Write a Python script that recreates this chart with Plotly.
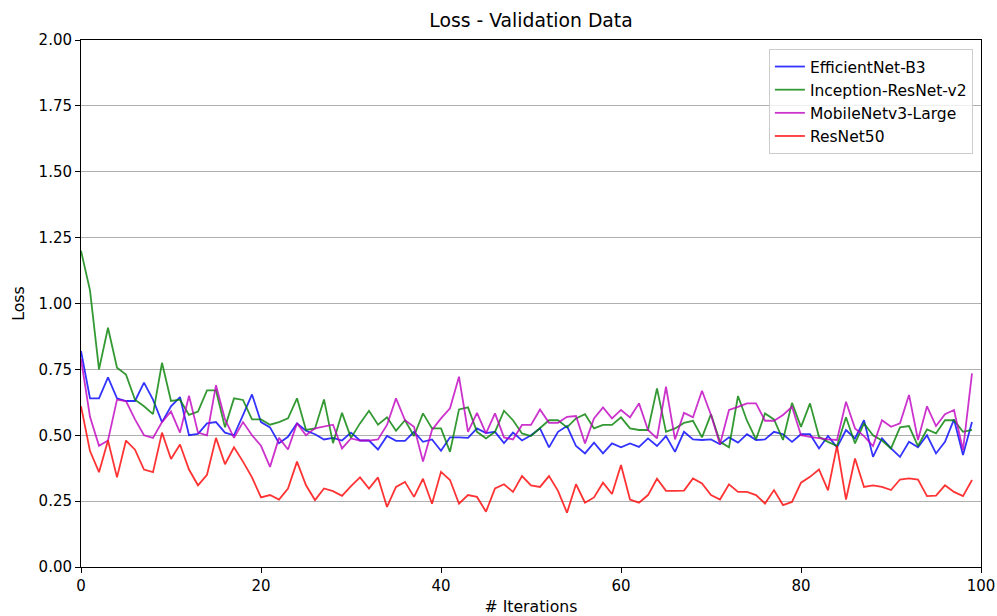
import plotly.graph_objects as go

iterations = list(range(100))

efficientnet_b3 = [
    0.82, 0.64, 0.64, 0.72, 0.64, 0.63, 0.63, 0.70, 0.635, 0.55,
    0.61, 0.645, 0.50, 0.505, 0.545, 0.55, 0.51, 0.50, 0.576, 0.655,
    0.55, 0.53, 0.47, 0.494, 0.545, 0.517, 0.504, 0.484, 0.49, 0.48,
    0.51, 0.48, 0.48, 0.446, 0.497, 0.479, 0.479, 0.513, 0.475, 0.484,
    0.441, 0.492, 0.492, 0.49, 0.526, 0.508, 0.513, 0.47, 0.51, 0.48,
    0.50, 0.526, 0.454, 0.513, 0.535, 0.459, 0.431, 0.472, 0.431, 0.469,
    0.454, 0.469, 0.456, 0.488, 0.459, 0.497, 0.437, 0.513, 0.484, 0.482,
    0.484, 0.466, 0.492, 0.472, 0.504, 0.482, 0.484, 0.513, 0.504, 0.475,
    0.504, 0.504, 0.45, 0.497, 0.454, 0.52, 0.488, 0.557, 0.418, 0.488,
    0.45, 0.418, 0.475, 0.454, 0.50, 0.431, 0.475, 0.56, 0.425, 0.55,
]

inception_resnet_v2 = [
    1.20, 1.05, 0.75, 0.908, 0.756, 0.73, 0.635, 0.61, 0.58, 0.775,
    0.63, 0.635, 0.577, 0.59, 0.67, 0.67, 0.53, 0.64, 0.634, 0.56,
    0.56, 0.54, 0.55, 0.564, 0.64, 0.52, 0.526, 0.636, 0.47, 0.585,
    0.49, 0.545, 0.593, 0.54, 0.568, 0.517, 0.557, 0.497, 0.583, 0.526,
    0.526, 0.437, 0.598, 0.606, 0.513, 0.488, 0.513, 0.593, 0.557, 0.507,
    0.497, 0.526, 0.557, 0.557, 0.53, 0.564, 0.58, 0.526, 0.539, 0.539,
    0.568, 0.526, 0.52, 0.52, 0.678, 0.513, 0.526, 0.547, 0.555, 0.492,
    0.58, 0.475, 0.454, 0.649, 0.555, 0.484, 0.583, 0.56, 0.482, 0.623,
    0.532, 0.621, 0.494, 0.475, 0.459, 0.568, 0.469, 0.545, 0.50, 0.48,
    0.45, 0.53, 0.535, 0.459, 0.522, 0.507, 0.557, 0.557, 0.513, 0.52,
]

mobilenetv3_large = [
    0.79, 0.57, 0.46, 0.48, 0.635, 0.63, 0.56, 0.50, 0.49, 0.55,
    0.59, 0.51, 0.65, 0.51, 0.50, 0.69, 0.56, 0.49, 0.55, 0.50,
    0.46, 0.38, 0.49, 0.446, 0.545, 0.50, 0.526, 0.532, 0.54, 0.45,
    0.488, 0.48, 0.48, 0.484, 0.539, 0.64, 0.557, 0.532, 0.40, 0.52,
    0.564, 0.602, 0.722, 0.513, 0.585, 0.507, 0.583, 0.492, 0.484, 0.539,
    0.539, 0.598, 0.547, 0.547, 0.57, 0.573, 0.469, 0.564, 0.606, 0.564,
    0.596, 0.568, 0.621, 0.52, 0.488, 0.684, 0.484, 0.585, 0.568, 0.669,
    0.577, 0.466, 0.596, 0.608, 0.621, 0.621, 0.555, 0.555, 0.577, 0.608,
    0.50, 0.494, 0.488, 0.484, 0.482, 0.627, 0.526, 0.497, 0.459, 0.557,
    0.532, 0.545, 0.653, 0.482, 0.61, 0.535, 0.58, 0.596, 0.444, 0.735,
]

resnet50 = [
    0.61, 0.44, 0.36, 0.48, 0.34, 0.48, 0.445, 0.37, 0.36, 0.51,
    0.41, 0.465, 0.37, 0.31, 0.35, 0.49, 0.39, 0.454, 0.40, 0.34,
    0.264, 0.273, 0.256, 0.298, 0.40, 0.31, 0.254, 0.298, 0.288, 0.27,
    0.307, 0.34, 0.298, 0.34, 0.228, 0.304, 0.323, 0.266, 0.335, 0.24,
    0.361, 0.33, 0.24, 0.273, 0.266, 0.21, 0.298, 0.314, 0.285, 0.345,
    0.31, 0.304, 0.345, 0.289, 0.206, 0.314, 0.244, 0.264, 0.32, 0.277,
    0.387, 0.256, 0.244, 0.273, 0.335, 0.289, 0.289, 0.29, 0.336, 0.317,
    0.273, 0.256, 0.314, 0.285, 0.285, 0.273, 0.241, 0.292, 0.235, 0.247,
    0.32, 0.342, 0.37, 0.291, 0.46, 0.256, 0.412, 0.304, 0.31, 0.304,
    0.292, 0.332, 0.336, 0.332, 0.269, 0.271, 0.31, 0.285, 0.269, 0.33,
]

series_names = ["EfficientNet-B3", "Inception-ResNet-v2", "MobileNetv3-Large", "ResNet50"]
series_values = [efficientnet_b3, inception_resnet_v2, mobilenetv3_large, resnet50]
series_colors = ["rgba(0,0,255,0.8)", "rgba(0,128,0,0.8)", "rgba(191,0,191,0.8)", "rgba(255,0,0,0.8)"]

y_ticks = [0, 0.25, 0.5, 0.75, 1.0, 1.25, 1.5, 1.75, 2.0]
x_ticks = [0, 20, 40, 60, 80, 100]

FONT = "DejaVu Sans"

fig = go.Figure()
for name, vals, col in zip(series_names, series_values, series_colors):
    fig.add_trace(go.Scatter(x=iterations, y=vals, mode="lines", name=name,
                             line=dict(color=col, width=1.8)))

fig.update_layout(
    width=997, height=616,
    margin=dict(l=81, r=16, t=40, b=49),
    paper_bgcolor="white", plot_bgcolor="white",
    font=dict(family=FONT, size=15, color="black"),
    title=dict(text="Loss - Validation Data", x=0.5, xref="paper", xanchor="center",
               y=1 - 20 / 616, yanchor="middle", font=dict(family=FONT, size=18.8, color="black")),
    legend=dict(x=0.991, y=0.983, xanchor="right", yanchor="top",
                bgcolor="rgba(255,255,255,0.8)", bordercolor="#cccccc", borderwidth=1,
                font=dict(family=FONT, size=15.5, color="black"), tracegroupgap=0),
    showlegend=True,
)
fig.update_xaxes(range=[0, 100], tickvals=x_ticks, ticks="outside", ticklen=5, tickcolor="black",
                 tickfont=dict(family=FONT, size=15),
                 showline=True, linecolor="black", linewidth=1, mirror=True, showgrid=False,
                 zeroline=False, automargin=False,
                 title=dict(text="# Iterations", standoff=10, font=dict(family=FONT, size=15.7)))
fig.update_yaxes(range=[0, 2], tickvals=y_ticks, tickformat=".2f", ticks="outside", ticklen=5,
                 tickcolor="black", tickfont=dict(family=FONT, size=15),
                 showline=True, linecolor="black", linewidth=1, mirror=True,
                 showgrid=True, gridcolor="#b0b0b0", gridwidth=1, zeroline=False, automargin=False,
                 title=dict(text="Loss", standoff=10, font=dict(family=FONT, size=15.7)))

post = (
    "document.body.style.margin='0';document.body.style.padding='0';"
    "document.documentElement.style.overflow='hidden';document.body.style.overflow='hidden';"
    "var gd=document.getElementById('{plot_id}');Plotly.relayout(gd,{width:997,height:616});"
)
fig.write_html("out.html", post_script=post, config={"displayModeBar": False})
